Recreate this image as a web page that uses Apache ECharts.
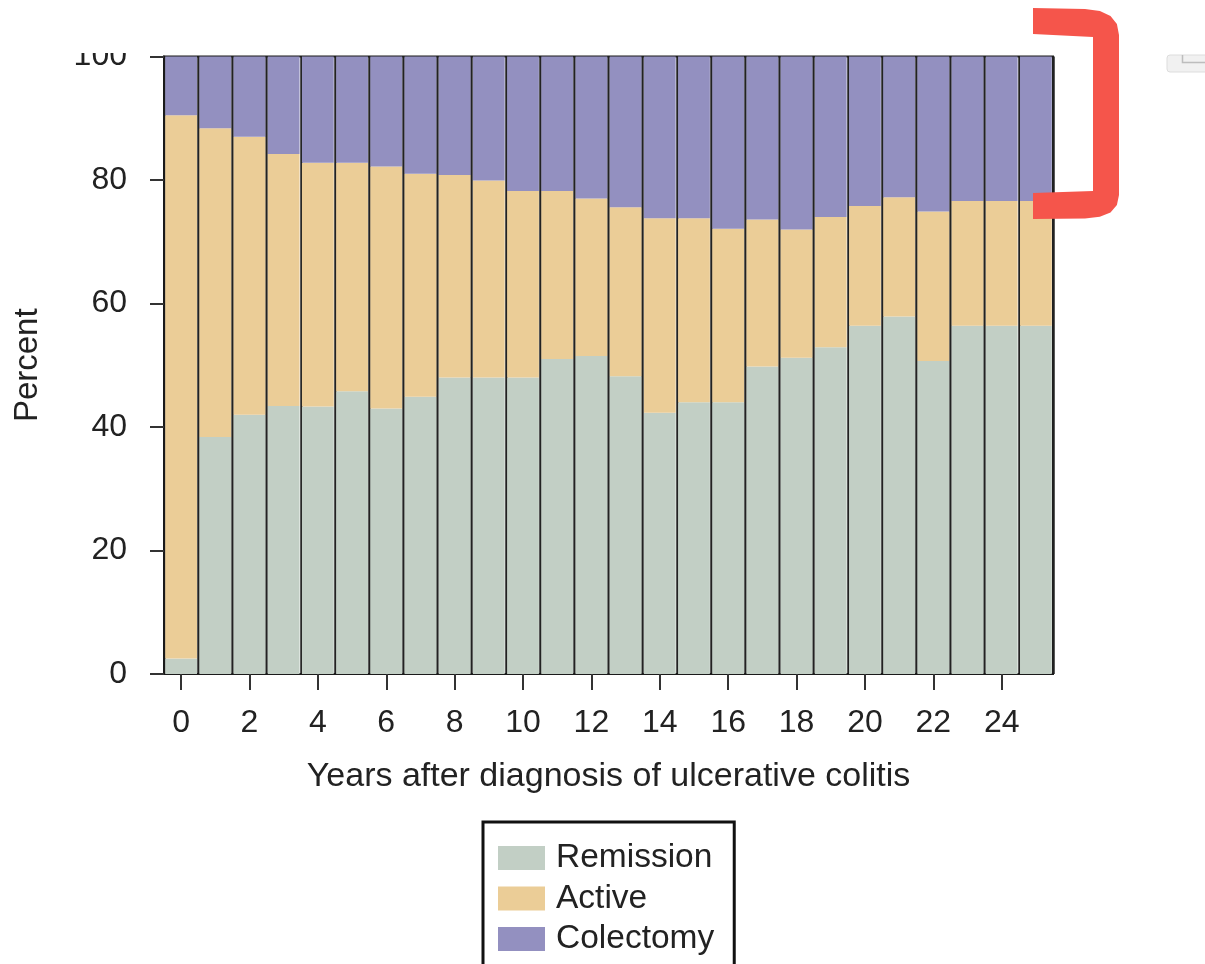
<!DOCTYPE html>
<html>
<head>
<meta charset="utf-8">
<script src="https://cdn.jsdelivr.net/npm/echarts@6/dist/echarts.min.js"></script>
<style>
html,body{margin:0;padding:0;background:#fff;}
#chart{width:1205px;height:964px;}
</style>
</head>
<body>
<div id="chart"></div>
<script>
var years = ['0','1','2','3','4','5','6','7','8','9','10','11','12','13','14','15','16','17','18','19','20','21','22','23','24','25'];
var remission = [2.5, 38.4, 42.0, 43.4, 43.3, 45.8, 43.0, 44.9, 48.0, 48.0, 48.0, 51.0, 51.5, 48.2, 42.3, 44.0, 44.0, 49.8, 51.2, 52.9, 56.4, 57.9, 50.7, 56.4, 56.4, 56.4];
var active = [88.0, 50.0, 45.0, 40.8, 39.5, 37.0, 39.2, 36.1, 32.8, 31.9, 30.2, 27.2, 25.5, 27.4, 31.5, 29.8, 28.1, 23.8, 20.8, 21.1, 19.4, 19.3, 24.2, 20.2, 20.2, 20.2];
var colectomy = [9.5, 11.6, 13.0, 15.8, 17.2, 17.2, 17.8, 19.0, 19.2, 20.1, 21.8, 21.8, 23.0, 24.4, 26.2, 26.2, 27.9, 26.4, 28.0, 26.0, 24.2, 22.8, 25.1, 23.4, 23.4, 23.4];
var yTicks = [0, 20, 40, 60, 80, 100];

var FONT = '"Liberation Sans", Arial, Helvetica, sans-serif';
var INK = '#222222';
var chart = echarts.init(document.getElementById('chart'));
chart.setOption({
  backgroundColor: '#ffffff',
  animation: false,
  grid: {left: 164, right: 152, top: 56.5, bottom: 290, show: true, borderColor: '#1a1a1a', borderWidth: 2, containLabel: false},
  legend: {
    orient: 'vertical', left: 483, top: 822, height: 300,
    padding: [19, 20, 24, 15],
    borderColor: '#111111', borderWidth: 3,
    itemWidth: 47, itemHeight: 24, itemGap: 6.5,
    icon: 'rect',
    textStyle: {fontFamily: FONT, fontSize: 33.5, color: INK, lineHeight: 33, padding: [0, 0, 0, 6]},
    data: ['Remission', 'Active', 'Colectomy']
  },
  xAxis: {
    type: 'category', data: years,
    name: 'Years after diagnosis of ulcerative colitis',
    nameLocation: 'middle', nameGap: 86,
    nameTextStyle: {fontFamily: FONT, fontSize: 34, color: INK},
    axisLine: {show: true, lineStyle: {color: '#1a1a1a', width: 2}},
    axisTick: {show: true, alignWithLabel: true, interval: 1, length: 16, lineStyle: {color: '#333', width: 2}},
    axisLabel: {interval: 1, margin: 33, fontFamily: FONT, fontSize: 32, color: INK},
    splitLine: {show: true, interval: 0, lineStyle: {color: '#222222', width: 2.5}}
  },
  yAxis: {
    type: 'value', min: 0, max: 100, interval: 20,
    name: 'Percent', nameLocation: 'middle', nameGap: 120,
    nameTextStyle: {fontFamily: FONT, fontSize: 33, color: INK},
    axisLine: {show: true, lineStyle: {color: '#1a1a1a', width: 2}},
    axisTick: {show: true, length: 14, lineStyle: {color: '#333', width: 2}},
    axisLabel: {margin: 37, fontFamily: FONT, fontSize: 32, color: INK,
      formatter: function (v) { return yTicks.indexOf(v) >= 0 ? String(v) : ''; }},
    splitLine: {show: false}
  },
  series: [
    {name: 'Remission', type: 'bar', stack: 'all', data: remission, barCategoryGap: '7%', itemStyle: {color: '#C2CFC5'}},
    {name: 'Active', type: 'bar', stack: 'all', data: active, barCategoryGap: '7%', itemStyle: {color: '#EBCD97'}},
    {name: 'Colectomy', type: 'bar', stack: 'all', data: colectomy, barCategoryGap: '7%', itemStyle: {color: '#9390C0'}}
  ],
  graphic: [
    {type: 'rect', z: 100, shape: {x: 0, y: 0, width: 160, height: 53}, style: {fill: '#ffffff'}},
    {type: 'polygon', z: 101, shape: {points: [
      [1033, 8], [1085, 9], [1099.9, 11], [1110.5, 16], [1116.9, 24], [1119, 35],
      [1119, 195], [1116.9, 205.1], [1110.5, 212.4], [1099.8, 216.8], [1085, 218.5],
      [1033, 219], [1033, 193], [1093, 191], [1093, 37], [1033, 34]
    ]}, style: {fill: '#F5554B'}},
    {type: 'rect', z: 101, shape: {x: 1167, y: 55, width: 50, height: 17, r: 3}, style: {fill: '#F1F1F1', stroke: '#DDDDDD', lineWidth: 1}},
    {type: 'polyline', z: 102, shape: {points: [[1182.5, 55], [1182.5, 62.5], [1205, 62.5]]}, style: {stroke: '#BDBDBD', lineWidth: 1.5, fill: null}}
  ]
});
</script>
</body>
</html>
